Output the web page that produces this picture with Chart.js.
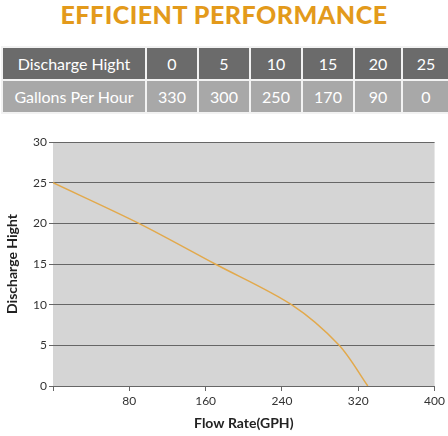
<!DOCTYPE html>
<html><head><meta charset="utf-8">
<script src="https://cdn.jsdelivr.net/npm/chart.js@4"></script>
<style>
body{margin:0;width:448px;height:436px;background:#fff;font-family:Lato,"Open Sans",sans-serif;overflow:hidden}
h1{margin:0;height:44px;line-height:28px;text-align:center;color:#e39a1b;font-size:25px;font-weight:900;letter-spacing:0.5px}
table{position:absolute;left:1px;top:46px;width:436px;border-collapse:collapse;table-layout:fixed}
td{border:2px solid #f2f2f2;color:#fff;font-size:16px;text-align:center;padding:0;height:31px;white-space:nowrap}
tr.a td{background:#6b6b6b}
tr.b td{background:#a8a8a8}
#wrap{position:absolute;left:0;top:130px;width:448px;height:306px}
</style></head><body>
<h1>EFFICIENT PERFORMANCE</h1>
<table id="tbl"></table>
<div id="wrap"><canvas id="c"></canvas></div>
<script>
const heights = [0, 5, 10, 15, 20, 25];
const gph = [330, 300, 250, 170, 90, 0];
const colWidths = [142, 50, 50, 50, 50, 46, 46];

const tbl = document.getElementById('tbl');
const r1 = tbl.insertRow(); r1.className = 'a';
const r2 = tbl.insertRow(); r2.className = 'b';
['Discharge Hight', ...heights].forEach((v, i) => { const c = r1.insertCell(); c.textContent = v; c.style.width = colWidths[i] + 'px'; });
['Gallons Per Hour', ...gph].forEach(v => { r2.insertCell().textContent = v; });

Chart.defaults.font.family = 'Lato, "Open Sans", sans-serif';

const bg = {
  id: 'bg',
  beforeDraw(chart) {
    const a = chart.chartArea, ctx = chart.ctx;
    ctx.save(); ctx.fillStyle = '#d5d5d5';
    ctx.fillRect(a.left, a.top, a.right - a.left, a.bottom - a.top);
    ctx.restore();
  }
};

new Chart(document.getElementById('c'), {
  type: 'scatter',
  data: {
    datasets: [{
      data: gph.map((g, i) => ({ x: g, y: heights[i] })).sort((p, q) => p.x - q.x),
      showLine: true,
      borderColor: '#e2a94c',
      borderWidth: 1.5,
      pointRadius: 0,
      tension: 0.3
    }]
  },
  options: {
    responsive: true, maintainAspectRatio: false, animation: false,
    layout: { padding: { top: 12, right: 13 } },
    plugins: { legend: { display: false }, tooltip: { enabled: false } },
    scales: {
      x: {
        min: 0, max: 400,
        afterFit(s) { s.height = 50; },
        ticks: { stepSize: 80, color: '#333', font: { size: 12 }, callback: v => v === 0 ? '' : v },
        grid: { drawOnChartArea: false, color: '#666', tickLength: 5 },
        border: { color: '#666' },
        title: { display: true, text: 'Flow Rate(GPH)', color: '#222', font: { size: 14, weight: 'bold' } }
      },
      y: {
        min: 0, max: 30,
        afterFit(s) { s.width = 53; },
        ticks: { stepSize: 5, color: '#333', font: { size: 12 }, padding: 2 },
        grid: { color: '#666', tickLength: 4 },
        border: { display: false },
        title: { display: true, text: 'Discharge Hight', color: '#222', font: { size: 14, weight: 'bold' } }
      }
    }
  },
  plugins: [bg]
});
</script>
</body></html>
